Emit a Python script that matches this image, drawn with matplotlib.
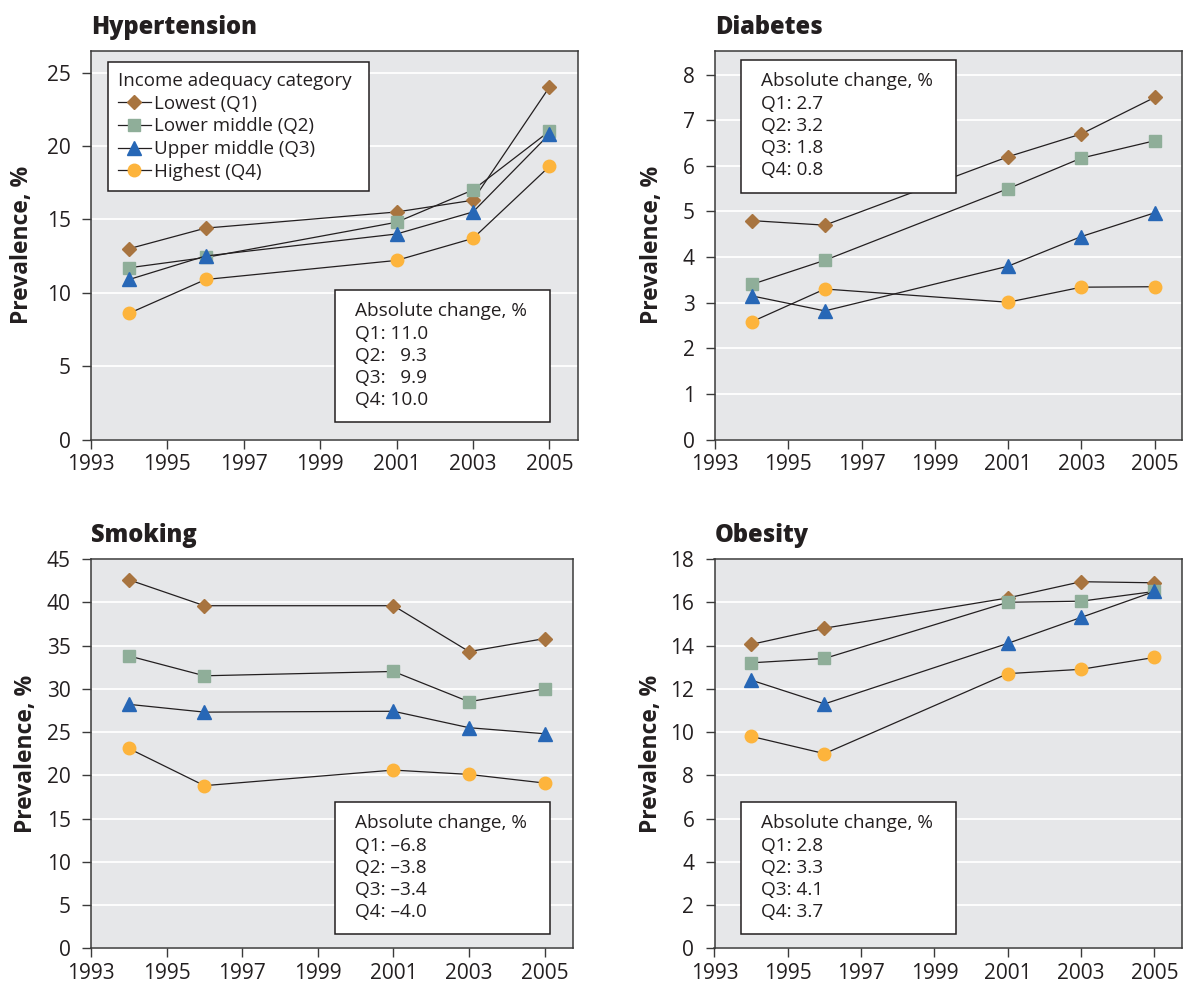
import matplotlib
matplotlib.use('Agg')
from matplotlib import pyplot as plt
from matplotlib.patches import Rectangle

plt.rcParams['font.family'] = ['Open Sans', 'DejaVu Sans']

years = [1994, 1996, 2001, 2003, 2005]
groups = ['Lowest (Q1)', 'Lower middle (Q2)', 'Upper middle (Q3)', 'Highest (Q4)']

hyper_q1 = [13.0, 14.4, 15.5, 16.3, 24.0]
hyper_q2 = [11.7, 12.4, 14.8, 17.0, 21.0]
hyper_q3 = [10.9, 12.5, 14.0, 15.5, 20.8]
hyper_q4 = [8.6, 10.9, 12.2, 13.7, 18.6]

diab_q1 = [4.8, 4.7, 6.2, 6.7, 7.5]
diab_q2 = [3.4, 3.93, 5.5, 6.17, 6.55]
diab_q3 = [3.15, 2.82, 3.8, 4.45, 4.97]
diab_q4 = [2.58, 3.3, 3.01, 3.34, 3.35]

smok_q1 = [42.6, 39.6, 39.6, 34.3, 35.8]
smok_q2 = [33.8, 31.5, 32.0, 28.5, 30.0]
smok_q3 = [28.2, 27.3, 27.4, 25.5, 24.8]
smok_q4 = [23.1, 18.8, 20.6, 20.1, 19.1]

obes_q1 = [14.05, 14.8, 16.2, 16.95, 16.9]
obes_q2 = [13.2, 13.4, 16.0, 16.05, 16.5]
obes_q3 = [12.4, 11.3, 14.1, 15.3, 16.5]
obes_q4 = [9.8, 9.0, 12.7, 12.9, 13.45]

hyper_change = ['Q1: 11.0', 'Q2:   9.3', 'Q3:   9.9', 'Q4: 10.0']
diab_change = ['Q1: 2.7', 'Q2: 3.2', 'Q3: 1.8', 'Q4: 0.8']
smok_change = ['Q1: \u20136.8', 'Q2: \u20133.8', 'Q3: \u20133.4', 'Q4: \u20134.0']
obes_change = ['Q1: 2.8', 'Q2: 3.3', 'Q3: 4.1', 'Q4: 3.7']

W, H = 1183, 986
markers = [('D', '#a8743f', 7.5), ('s', '#8fae99', 9), ('^', '#2767b6', 9.5), ('o', '#fdb43c', 9)]
txtc = '#231f20'


def px_axes(fig, l, t, r, b):
    return fig.add_axes([l / W, 1 - b / H, (r - l) / W, (b - t) / H])


def panel(ax, title, series, ymax, ystep, changes, box, ylab_x):
    ax.set_facecolor('#e6e7e9')
    for (m, c, ms), ys, lab in zip(markers, series, groups):
        ax.plot(years, ys, color='#231f20', lw=0.9, marker=m, ms=ms,
                mfc=c, mec=c, label=lab, zorder=3)
    ax.set_xlim(1993, 2005.75)
    ax.set_ylim(0, ymax)
    ax.set_xticks(range(1993, 2006, 2))
    ticks = []
    v = 0
    while v <= ymax + 1e-9:
        ticks.append(v)
        v += ystep
    ax.set_yticks(ticks)
    ax.yaxis.grid(True, color='white', lw=1.3)
    ax.set_axisbelow(True)
    for s in ax.spines.values():
        s.set_color('#3a3a3a')
        s.set_linewidth(1.1)
    ax.tick_params(direction='out', length=6.5, width=1, color='#3a3a3a',
                   labelsize=15, labelcolor=txtc)
    ax.tick_params(axis='y', pad=8)
    ax.tick_params(axis='x', pad=4)
    ax.set_title(title, loc='left', fontsize=17, fontweight='heavy', color=txtc, pad=12)
    ax.set_ylabel('Prevalence, %', fontsize=16.5, fontweight='bold', color=txtc)
    ax.yaxis.set_label_coords(ylab_x, 0.5)

    fig = ax.figure
    l, t, r, b = box
    fig.patches.append(Rectangle((l / W, 1 - b / H), (r - l) / W, (b - t) / H,
                                 transform=fig.transFigure, facecolor='white',
                                 edgecolor='#231f20', lw=1.1, zorder=5))
    lines = ['Absolute change, %'] + changes
    for i, s in enumerate(lines):
        fig.text((l + 20) / W, 1 - (t + 21.5 + 22 * i) / H, s, fontsize=13.7,
                 color=txtc, va='center', ha='left', zorder=6)


fig = plt.figure(figsize=(W / 100, H / 100), dpi=100)

ax1 = px_axes(fig, 91, 50.5, 578, 439.5)
ax2 = px_axes(fig, 715, 50.5, 1182, 439.5)
ax3 = px_axes(fig, 91, 559, 573, 948.3)
ax4 = px_axes(fig, 714.5, 559, 1182, 948.3)

panel(ax1, 'Hypertension', [hyper_q1, hyper_q2, hyper_q3, hyper_q4], 26.5, 5,
      hyper_change, (335, 290, 550, 422), -0.118)
panel(ax2, 'Diabetes', [diab_q1, diab_q2, diab_q3, diab_q4], 8.53, 1,
      diab_change, (741, 60, 956, 193), -0.11)
panel(ax3, 'Smoking', [smok_q1, smok_q2, smok_q3, smok_q4], 45, 5,
      smok_change, (335, 802, 550, 934), -0.11)
panel(ax4, 'Obesity', [obes_q1, obes_q2, obes_q3, obes_q4], 18, 2,
      obes_change, (741, 802, 956, 934), -0.11)

leg = ax1.legend(loc='upper left', bbox_to_anchor=(0.034, 0.5, 0.537, 0.471),
                 mode='expand', borderaxespad=0,
                 title='Income adequacy category', alignment='left', fontsize=13.5,
                 title_fontsize=13.5, frameon=True, fancybox=False, handlelength=1.75,
                 handletextpad=0.2, labelspacing=0.25, borderpad=0.55)
leg.get_frame().set_edgecolor('#231f20')
leg.get_frame().set_linewidth(1.1)
leg.get_frame().set_alpha(1)
for t in leg.get_texts():
    t.set_color(txtc)
leg.get_title().set_color(txtc)

fig.savefig('out.png', dpi=100)
